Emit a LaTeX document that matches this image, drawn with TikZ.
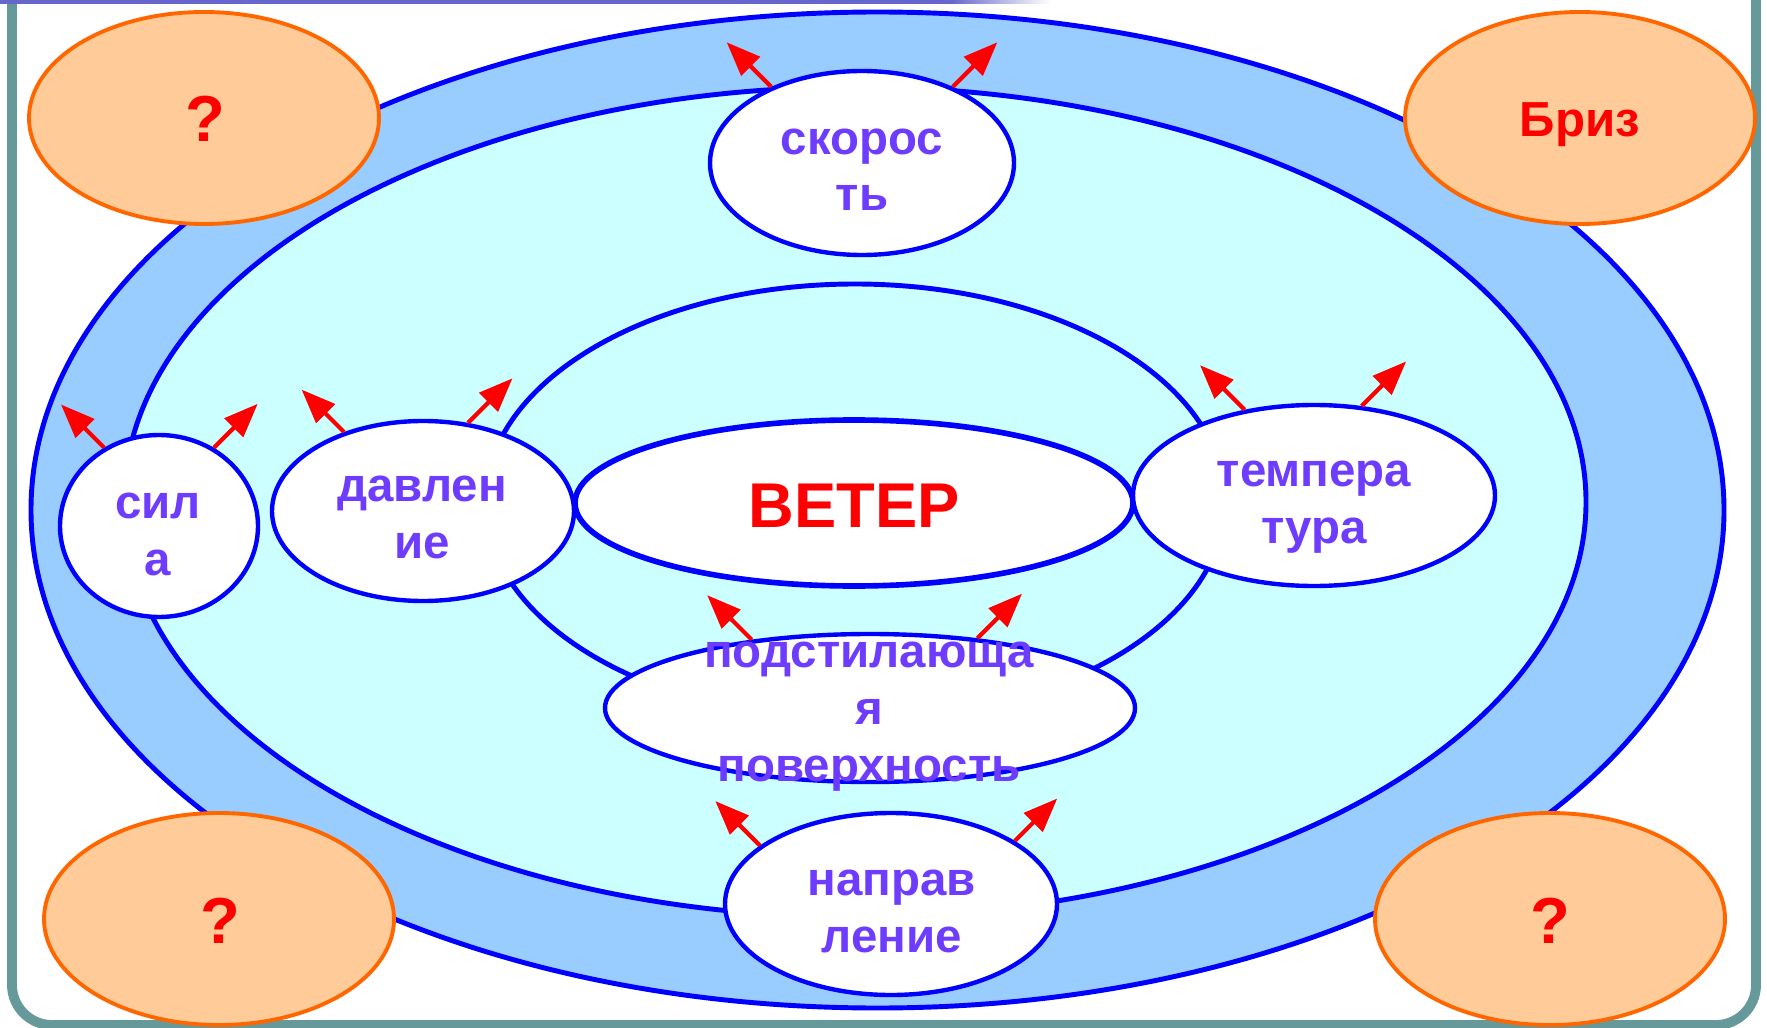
\documentclass[tikz,border=0pt]{standalone}
\usepackage{fontspec}
\setmainfont{Liberation Sans}
\usetikzlibrary{shapes.geometric}
\usetikzlibrary{arrows.meta}
\definecolor{frameteal}{RGB}{102,153,153}
\definecolor{barblue}{RGB}{102,102,204}
\definecolor{outerblue}{RGB}{153,204,255}
\definecolor{innercyan}{RGB}{204,255,255}
\definecolor{wordviolet}{RGB}{110,60,255}
\definecolor{guessfill}{RGB}{255,204,153}
\definecolor{guessline}{RGB}{255,102,0}
\tikzstyle{push} = [draw=red, line width=1.2pt, -{Triangle[length=0.34cm, width=0.26cm]}]

\begin{document}
\begin{tikzpicture}

				\tikzstyle{factor} = [ellipse, draw=blue, fill=white, line width=1.25pt, inner sep=0pt]
				\tikzstyle{guess} = [ellipse, draw=guessline, fill=guessfill, line width=1.1pt, inner sep=0pt, minimum width=3.5cm, minimum height=2.12cm]
				\tikzstyle{word} = [text=wordviolet, font=\fontsize{13.5}{16.2}\selectfont\bfseries, align=center, anchor=base, inner sep=0pt]
				\tikzstyle{answer} = [text=red, font=\fontsize{18.5}{20}\selectfont\bfseries, anchor=base, inner sep=0pt]

				\useasboundingbox (0,0) rectangle (17.67,10.27);

				% Frame and zones
				\draw[frameteal, line width=2.8pt, fill=white, rounded corners=0.4cm] (0.12,0.02) rectangle (17.56,11);
				\draw[blue, line width=1.4pt, fill=outerblue] (8.775,5.17) ellipse [x radius=8.465, y radius=4.98];
				\draw[blue, line width=1.4pt, fill=innercyan] (8.55,5.25) ellipse [x radius=7.31, y radius=4.15];
				\draw[blue, line width=1.4pt] (8.55,5.25) ellipse [x radius=3.70, y radius=2.18];

				% Place nodes
				\node [factor, line width=1.6pt, minimum width=5.58cm, minimum height=1.66cm] (veter) at (8.54,5.24) {};
				\node [factor, minimum width=3.04cm, minimum height=1.84cm] (skor) at (8.62,8.64) {};
				\node [factor, minimum width=3.32cm, minimum height=1.82cm] (napr) at (8.91,1.23) {};
				\node [factor, minimum width=5.30cm, minimum height=1.48cm] (podst) at (8.70,3.19) {};
				\node [factor, minimum width=3.02cm, minimum height=1.80cm] (davl) at (4.23,5.16) {};
				\node [factor, minimum width=1.98cm, minimum height=1.82cm] (sila) at (1.59,5.01) {};
				\node [factor, minimum width=3.62cm, minimum height=1.81cm] (temp) at (13.14,5.315) {};

				\node [guess] (vopr1) at (2.04,9.09) {};
				\node [guess] (briz) at (15.80,9.09) {};
				\node [guess] (vopr2) at (2.19,1.08) {};
				\node [guess] (vopr3) at (15.50,1.08) {};

				% Texts (base = last line)
				\node [answer, font=\fontsize{18}{20}\selectfont\bfseries] (veter_t) at (8.54,5.00) {ВЕТЕР};
				\node [word] (skor_t) at (8.62,8.16) {скорос\\ть};
				\node [word] (napr_t) at (8.92,0.75) {направ\\ление};
				\node [word] (podst_t) at (8.69,2.46) {подстилающа\\я\\поверхность};
				\node [word] (davl_t) at (4.22,4.69) {давлен\\ие};
				\node [word] (sila_t) at (1.58,4.52) {сил\\а};
				\node [word] (temp_t) at (13.14,4.84) {темпера\\тура};

				\node [answer] (vopr1_t) at (2.05,8.85) {?};
				\node [answer, font=\fontsize{14}{16}\selectfont\bfseries] (briz_t) at (15.80,8.90) {Бриз};
				\node [answer] (vopr2_t) at (2.20,0.84) {?};
				\node [answer] (vopr3_t) at (15.50,0.84) {?};

				% Arrows
				\path [push] (skor.140) -- ++(135:0.63);
				\path [push] (skor.40) -- ++(45:0.63);
				\path [push] (napr.156) -- ++(135:0.63);
				\path [push] (napr.27) -- ++(45:0.6);
				\path [push] (podst.150) -- ++(135:0.63);
				\path [push] (podst.33) -- ++(45:0.63);
				\path [push] (davl.135) -- ++(135:0.6);
				\path [push] (davl.63) -- ++(45:0.63);
				\path [push] (sila.125) -- ++(135:0.61);
				\path [push] (sila.55) -- ++(45:0.62);
				\path [push] (temp.129) -- ++(135:0.63);
				\path [push] (temp.62) -- ++(45:0.63);

				% Top bar
				\fill [barblue] (0,10.23) rectangle (9.5,10.27);
				\shade [left color=barblue, right color=white] (9.5,10.23) rectangle (10.5,10.27);

\end{tikzpicture}
\end{document}
